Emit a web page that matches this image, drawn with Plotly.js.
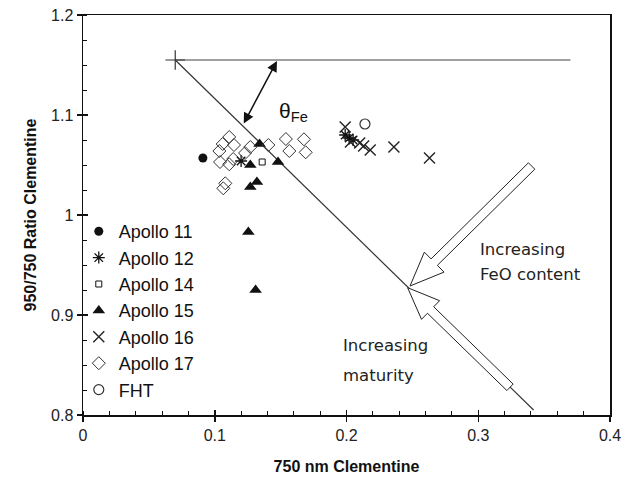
<!DOCTYPE html>
<html>
<head>
<meta charset="utf-8">
<script src="https://cdn.plot.ly/plotly-3.0.1.min.js"></script>
<style>html,body{margin:0;padding:0;background:#fff;}#chart{width:635px;height:488px;}</style>
</head>
<body>
<div id="chart"></div>
<script>
// ---- data ----
const apollo11X = [0.091];
const apollo11Y = [1.057];
const apollo12X = [0.120, 0.199, 0.202, 0.205];
const apollo12Y = [1.054, 1.080, 1.077, 1.075];
const apollo14X = [0.136];
const apollo14Y = [1.053];
const apollo15X = [0.134, 0.127, 0.148, 0.132, 0.127, 0.1255, 0.131];
const apollo15Y = [1.071, 1.050, 1.053, 1.033, 1.028, 0.983, 0.925];
const apollo16X = [0.199, 0.203, 0.210, 0.213, 0.218, 0.236, 0.263];
const apollo16Y = [1.088, 1.073, 1.072, 1.069, 1.065, 1.068, 1.057];
const apollo17X = [0.111, 0.106, 0.1146, 0.1035, 0.127, 0.1407, 0.123, 0.154, 0.1677, 0.1566, 0.169, 0.104, 0.111, 0.114, 0.108, 0.1065];
const apollo17Y = [1.078, 1.071, 1.070, 1.064, 1.068, 1.070, 1.062, 1.076, 1.0757, 1.064, 1.0627, 1.053, 1.0507, 1.056, 1.0317, 1.0267];
const fhtX = [0.214];
const fhtY = [1.091];

// reference lines (origin, horizontal, diagonal)
const horizX = [0.07, 0.37];
const horizY = [1.155, 1.155];
const diagX = [0.07, 0.342];
const diagY = [1.155, 0.805];
const originX = [0.07];
const originY = [1.155];

// theta double arrow ends
const thetaFrom = [0.1214, 1.090];
const thetaTo = [0.1472, 1.154];
const thetaLabel = [0.160, 1.103];

// hollow block arrows (tail, tip)
const feoTail = [0.3405, 1.049];
const feoTip = [0.2482, 0.929];
const matTail = [0.3241, 0.8277];
const matTip = [0.2464, 0.9273];

const xRange = [0, 0.4];
const yRange = [0.8, 1.2];

// ---- layout geometry ----
const M = {l: 83, r: 25, t: 15, b: 73};
const W = 635, H = 488;
const PX = (W - M.l - M.r) / (xRange[1] - xRange[0]);
const PY = (H - M.t - M.b) / (yRange[1] - yRange[0]);

function blockArrow(tail, tip, sh, hh, hl) {
  const t = [tail[0] * PX, -tail[1] * PY];
  const p = [tip[0] * PX, -tip[1] * PY];
  const dx = p[0] - t[0], dy = p[1] - t[1];
  const len = Math.hypot(dx, dy);
  const u = [dx / len, dy / len];
  const n = [-u[1], u[0]];
  const base = [p[0] - u[0] * hl, p[1] - u[1] * hl];
  const pts = [
    [t[0] + n[0] * sh, t[1] + n[1] * sh],
    [base[0] + n[0] * sh, base[1] + n[1] * sh],
    [base[0] + n[0] * hh, base[1] + n[1] * hh],
    p,
    [base[0] - n[0] * hh, base[1] - n[1] * hh],
    [base[0] - n[0] * sh, base[1] - n[1] * sh],
    [t[0] - n[0] * sh, t[1] - n[1] * sh]
  ];
  const d = pts.map((q, i) => (i === 0 ? 'M' : 'L') + (q[0] / PX).toFixed(5) + ',' + (-q[1] / PY).toFixed(5)).join(' ') + ' Z';
  return {type: 'path', xref: 'x', yref: 'y', path: d, fillcolor: '#ffffff', line: {color: '#222', width: 1}, layer: 'above'};
}

const K = '#111';
const traces = [
  {x: [xRange[0]], y: [yRange[0]], xaxis: 'x2', yaxis: 'y2', mode: 'markers', marker: {opacity: 0, size: 1}, showlegend: false, hoverinfo: 'skip'},
  {x: horizX, y: horizY, mode: 'lines', line: {color: '#444', width: 1.2}, showlegend: false, hoverinfo: 'skip'},
  {x: diagX, y: diagY, mode: 'lines', line: {color: '#333', width: 1.2}, showlegend: false, hoverinfo: 'skip'},
  {x: originX, y: originY, mode: 'markers', marker: {symbol: 'cross-thin-open', size: 14, color: '#333', line: {color: '#333', width: 1.2}}, showlegend: false, hoverinfo: 'skip'},
  {x: apollo11X, y: apollo11Y, name: 'Apollo 11', mode: 'markers', marker: {symbol: 'circle', size: 9, color: K}},
  {x: apollo12X, y: apollo12Y, name: 'Apollo 12', mode: 'markers', marker: {symbol: 'asterisk-open', size: 10, color: K, line: {color: K, width: 1.3}}},
  {x: apollo14X, y: apollo14Y, name: 'Apollo 14', mode: 'markers', marker: {symbol: 'square-open', size: 6, color: K, line: {color: K, width: 1}}},
  {x: apollo15X, y: apollo15Y, name: 'Apollo 15', mode: 'markers', marker: {symbol: 'triangle-up', size: 11, color: K}},
  {x: apollo16X, y: apollo16Y, name: 'Apollo 16', mode: 'markers', marker: {symbol: 'x-thin-open', size: 11, color: '#222', line: {color: '#222', width: 1.4}}},
  {x: apollo17X, y: apollo17Y, name: 'Apollo 17', mode: 'markers', marker: {symbol: 'diamond-open', size: 10, color: '#333', line: {color: '#333', width: 1}}},
  {x: fhtX, y: fhtY, name: 'FHT', mode: 'markers', marker: {symbol: 'circle-open', size: 10, color: '#333', line: {color: '#333', width: 1.2}}}
];

const AR = 'Arial, Liberation Sans, sans-serif';
const tickFont = {family: AR, size: 16, color: '#222'};
const layout = {
  width: W, height: H,
  margin: M,
  paper_bgcolor: '#fff', plot_bgcolor: '#fff',
  font: {family: AR, color: '#111'},
  showlegend: true,
  legend: {x: -0.008, y: 0.505, xanchor: 'left', yanchor: 'top', bgcolor: 'rgba(0,0,0,0)', borderwidth: 0,
           font: {family: AR, size: 18, color: '#111'}, itemwidth: 30, tracegroupgap: 0},
  xaxis: {range: xRange, dtick: 0.1, tick0: 0, ticks: 'outside', ticklen: 5, tickwidth: 1.5, tickcolor: '#111',
          showline: true, linewidth: 1.5, linecolor: '#111', mirror: true, showgrid: false, zeroline: false,
          minor: {ticks: 'inside', dtick: 0.02, ticklen: 4, tickwidth: 1, tickcolor: '#111', showgrid: false},
          tickfont: tickFont,
          title: {text: '<b>750 nm Clementine</b>', font: {family: AR, size: 16, color: '#111'}, standoff: 18}},
  xaxis2: {range: xRange, overlaying: 'x', anchor: 'y', side: 'bottom', dtick: 0.1, tick0: 0, ticks: 'inside', ticklen: 5, tickwidth: 1.5, tickcolor: '#111',
           showticklabels: false, showline: false, showgrid: false, zeroline: false},
  yaxis: {range: yRange, dtick: 0.1, tick0: 0.8, ticks: 'outside', ticklen: 5, tickwidth: 1.5, tickcolor: '#111',
          showline: true, linewidth: 1.5, linecolor: '#111', mirror: true, showgrid: false, zeroline: false,
          minor: {ticks: 'inside', dtick: 0.025, ticklen: 4, tickwidth: 1, tickcolor: '#111', showgrid: false},
          tickfont: tickFont,
          title: {text: '<b>950/750 Ratio Clementine</b>', font: {family: AR, size: 16, color: '#111'}, standoff: 10}},
  yaxis2: {range: yRange, overlaying: 'y', anchor: 'x', side: 'left', dtick: 0.1, tick0: 0.8, ticks: 'inside', ticklen: 5, tickwidth: 1.5, tickcolor: '#111',
           showticklabels: false, showline: false, showgrid: false, zeroline: false},
  shapes: [
    blockArrow(feoTail, feoTip, 4.5, 14, 34),
    blockArrow(matTail, matTip, 4.5, 13, 32)
  ],
  annotations: [
    {x: thetaTo[0], y: thetaTo[1], ax: thetaFrom[0], ay: thetaFrom[1], xref: 'x', yref: 'y', axref: 'x', ayref: 'y',
     text: '', showarrow: true, arrowhead: 2, startarrowhead: 2, arrowside: 'end+start', arrowsize: 1.4, startarrowsize: 1.4, arrowwidth: 1.5, arrowcolor: '#111'},
    {x: thetaLabel[0], y: thetaLabel[1], xref: 'x', yref: 'y', text: 'θ<sub>Fe</sub>', showarrow: false,
     font: {family: AR, size: 21, color: '#111'}},
    {x: 0.2998, y: 0.966, xref: 'x', yref: 'y', xanchor: 'left', yanchor: 'middle', showarrow: false,
     text: 'Increasing', font: {family: 'DejaVu Sans, sans-serif', size: 16.5, color: '#222'}},
    {x: 0.2998, y: 0.941, xref: 'x', yref: 'y', xanchor: 'left', yanchor: 'middle', showarrow: false,
     text: 'FeO content', font: {family: 'DejaVu Sans, sans-serif', size: 16.5, color: '#222'}},
    {x: 0.1958, y: 0.870, xref: 'x', yref: 'y', xanchor: 'left', yanchor: 'middle', showarrow: false,
     text: 'Increasing', font: {family: 'DejaVu Sans, sans-serif', size: 16.5, color: '#222'}},
    {x: 0.1958, y: 0.840, xref: 'x', yref: 'y', xanchor: 'left', yanchor: 'middle', showarrow: false,
     text: 'maturity', font: {family: 'DejaVu Sans, sans-serif', size: 16.5, color: '#222'}}
  ]
};

Plotly.newPlot('chart', traces, layout, {staticPlot: true, displayModeBar: false});
</script>
</body>
</html>
